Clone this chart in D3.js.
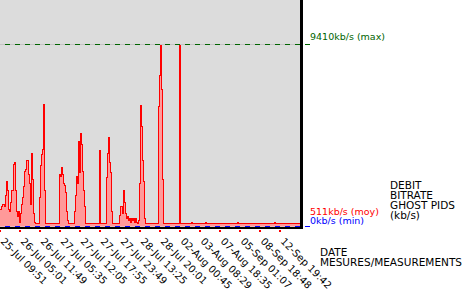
<!DOCTYPE html>
<html>
<head>
<meta charset="utf-8">
<script src="https://cdn.jsdelivr.net/npm/d3@7"></script>
<style>
  body { margin: 0; background: #fff; }
  svg { display: block; font-family: "DejaVu Sans", sans-serif; }
</style>
</head>
<body>
<div class="bitrate-chart"></div>
<script>
// one measurement per column, kb/s
const rates = [
    902, 1057, 1109, 1109, 1057, 1624, 2346, 1882, 851, 748, 1263, 1882, 1882, 3172, 3275, 1882, 748, 541, 748, 232,
    696, 1109, 1521, 2037, 2811, 2965, 3429, 3429, 2656, 2243, 1109, 3790, 2398, 645, 232, 130, 130, 130, 130, 1470,
    3120, 3687, 3945, 6266, 1882, 130, 130, 130, 130, 130, 130, 130, 130, 130, 130, 130, 130, 130, 130, 2707,
    2553, 3017, 2656, 2243, 2140, 1728, 748, 284, 130, 130, 130, 160, 180, 180, 748, 1624, 2553, 2243, 4358, 2759,
    4770, 4203, 2811, 1882, 1006, 130, 130, 130, 130, 130, 130, 130, 130, 130, 130, 130, 130, 130, 130, 3894,
    130, 130, 130, 130, 130, 130, 2501, 3790, 4564, 3275, 2759, 748, 130, 130, 130, 130, 130, 130, 130, 593,
    1006, 1006, 696, 1882, 1263, 696, 438, 490, 335, 387, 232, 438, 284, 387, 232, 438, 232, 130, 335, 2243,
    6214, 5131, 3429, 2346, 438, 130, 130, 130, 130, 130, 130, 130, 130, 130, 130, 130, 130, 130, 6163, 7761,
    9410, 7039, 2398, 130, 130, 130, 130, 130, 130, 130, 130, 130, 130, 130, 130, 130, 130, 130, 130, 9410,
    130, 130, 130, 130, 130, 130, 130, 130, 130, 130, 130, 200, 130, 130, 130, 130, 130, 130, 130, 130,
    130, 130, 130, 130, 130, 200, 130, 130, 130, 130, 130, 130, 130, 130, 130, 130, 130, 130, 130, 130,
    130, 130, 130, 130, 130, 130, 130, 130, 130, 130, 130, 130, 130, 130, 130, 130, 130, 200, 130, 130,
    130, 130, 130, 130, 130, 130, 130, 130, 130, 130, 130, 130, 130, 130, 130, 130, 130, 130, 130, 130,
    130, 130, 130, 130, 130, 130, 130, 130, 130, 130, 130, 130, 130, 130, 200, 130, 130, 130, 130, 130,
    130, 130, 130, 130, 130, 130, 130, 130, 130, 130, 130, 130, 130, 130, 130, 130, 130, 130, 130, 130
];

const tickLabels = [
    "25-Jul 09:51", "26-Jul 05:01", "26-Jul 11:49", "27-Jul 05:35", "27-Jul 12:05",
    "27-Jul 17:55", "27-Jul 23:49", "28-Jul 13:25", "28-Jul 20:01", "02-Aug 00:45",
    "03-Aug 08:29", "07-Aug 18:35", "05-Sep 01:07", "08-Sep 18:48", "12-Sep 19:42"
];
const tickEvery = 20;

const meanRate = 511;
const minRate = 0;
const yTitle = ["DEBIT", "BITRATE", "GHOST PIDS", "(kb/s)"];
const xTitle = ["DATE", "MESURES/MEASUREMENTS"];

const width = 470, height = 293;
const plot = {left: 0, top: 0, right: 300, bottom: 226.5};
const maxRate = d3.max(rates);

const x = d3.scaleLinear()
    .domain([0, rates.length])
    .range([plot.left, plot.right]);

const y = d3.scaleLinear()
    .domain([0, maxRate * 1.2412])
    .range([plot.bottom, plot.top]);

// add a closing point so the last step has width
const points = rates.map((v, i) => [i, v]).concat([[rates.length, rates[rates.length - 1]]]);

const area = d3.area()
    .curve(d3.curveStepAfter)
    .x(d => x(d[0]))
    .y0(y(0))
    .y1(d => y(d[1]));

const line = d3.line()
    .curve(d3.curveStepAfter)
    .x(d => x(d[0]))
    .y(d => y(d[1]));

const svg = d3.select(".bitrate-chart").append("svg")
    .attr("width", width)
    .attr("height", height);

svg.append("rect")
    .attr("x", plot.left)
    .attr("y", plot.top)
    .attr("width", plot.right - plot.left)
    .attr("height", 227)
    .attr("fill", "#dcdcdc");

svg.append("path")
    .datum(points)
    .attr("fill", "#ff9999")
    .attr("d", area);

svg.append("path")
    .datum(points)
    .attr("fill", "none")
    .attr("stroke", "#ff0000")
    .attr("stroke-width", 1)
    .attr("shape-rendering", "crispEdges")
    .attr("d", line);

// max line
const yMax = Math.round(y(maxRate)) + 0.5;
svg.append("line")
    .attr("x1", 0).attr("x2", plot.right)
    .attr("y1", yMax).attr("y2", yMax)
    .attr("stroke", "#c4c4c4")
    .attr("shape-rendering", "crispEdges");
svg.append("line")
    .attr("x1", 0).attr("x2", 310)
    .attr("y1", yMax).attr("y2", yMax)
    .attr("stroke", "#006400")
    .attr("stroke-dasharray", "5,5")
    .attr("stroke-dashoffset", 5)
    .attr("shape-rendering", "crispEdges");

// min line
const yMin = Math.floor(y(minRate)) + 0.5;
svg.append("line")
    .attr("x1", 0).attr("x2", 310)
    .attr("y1", yMin).attr("y2", yMin)
    .attr("stroke", "#0000ff")
    .attr("stroke-dasharray", "5,5")
    .attr("stroke-dashoffset", 5)
    .attr("shape-rendering", "crispEdges");

// axes frame
svg.append("rect")
    .attr("x", 0).attr("y", 227)
    .attr("width", 303).attr("height", 2)
    .attr("fill", "#000");
svg.append("rect")
    .attr("x", 300).attr("y", 0)
    .attr("width", 3).attr("height", 229)
    .attr("fill", "#000");

const xAxis = g => g
    .attr("transform", "translate(0,230)")
    .call(d3.axisBottom(x)
        .tickValues(tickLabels.map((d, i) => i * tickEvery))
        .tickFormat((d, i) => tickLabels[i])
        .tickSize(2)
        .offset(0))
    .call(g => g.select(".domain").remove())
    .call(g => g.selectAll(".tick line")
        .attr("stroke", "#ff0000")
        .attr("stroke-width", 2)
        .attr("shape-rendering", "crispEdges"))
    .call(g => g.selectAll(".tick text")
        .attr("x", null)
        .attr("y", null)
        .attr("dy", null)
        .attr("fill", "#000")
        .attr("text-anchor", "start")
        .attr("font-family", "DejaVu Sans")
        .attr("font-size", 10)
        .attr("transform", "translate(0,12) rotate(45)"));

svg.append("g").call(xAxis);

// value labels on the right
const valueLabels = [
    {text: `${maxRate}kb/s (max)`, y: 40, color: "#006400"},
    {text: `${meanRate}kb/s (moy)`, y: 215, color: "#ff0000"},
    {text: `${minRate}kb/s (min)`, y: 224, color: "#0000ff"}
];
svg.append("g")
    .selectAll("text")
    .data(valueLabels)
    .join("text")
    .attr("x", 310)
    .attr("y", d => d.y)
    .attr("fill", d => d.color)
    .attr("font-size", 9.5)
    .text(d => d.text);

svg.append("g")
    .selectAll("text")
    .data(yTitle)
    .join("text")
    .attr("x", 390)
    .attr("y", (d, i) => 189 + i * 10)
    .attr("font-size", 10.5)
    .attr("fill", "#000")
    .text(d => d);

svg.append("g")
    .selectAll("text")
    .data(xTitle)
    .join("text")
    .attr("x", 320)
    .attr("y", (d, i) => 256 + i * 10)
    .attr("font-size", 10.5)
    .attr("fill", "#000")
    .text(d => d);
</script>
</body>
</html>
